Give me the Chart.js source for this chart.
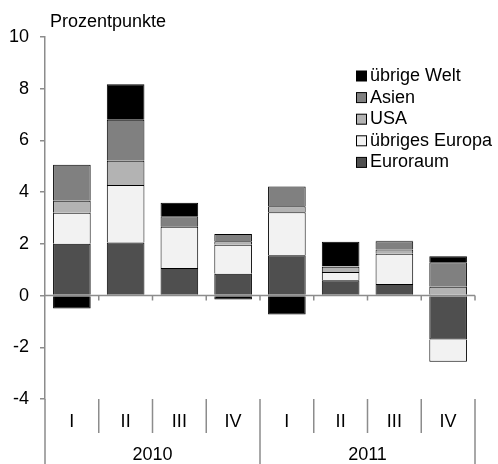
<!DOCTYPE html>
<html>
<head>
<meta charset="utf-8">
<script src="https://cdn.jsdelivr.net/npm/chart.js@4.4.1/dist/chart.umd.min.js"></script>
<style>
html, body { margin: 0; padding: 0; background: #fff; }
#wrap { width: 498px; height: 464px; position: relative; }
</style>
</head>
<body>
<div id="wrap"><canvas id="chart"></canvas></div>
<script>
// values (Prozentpunkte)
const quarters = ['I', 'II', 'III', 'IV', 'I', 'II', 'III', 'IV'];
const years = ['2010', '2011'];
const euroraum       = [2.0, 2.05, 1.07, 0.84, 1.56, 0.59, 0.45, -1.7];
const uebrigesEuropa = [1.2, 2.23, 1.59, 1.13, 1.66, 0.32, 1.17, -0.86];
const usa            = [0.47, 0.93, 0.03, 0.13, 0.23, 0.2, 0.16, 0.34];
const asien          = [1.39, 1.59, 0.38, 0.28, 0.77, 0.02, 0.32, 0.95];
const uebrigeWelt    = [-0.5, 1.37, 0.52, -0.15, -0.73, 0.95, 0.02, 0.23];
const yMin = -4, yMax = 10, yStep = 2;

const FONT = '"Liberation Sans", Arial, sans-serif';
const FSIZE = 18;
const AXIS = '#8c8c8c';

const datasets = [
    { label: 'Euroraum', data: euroraum, backgroundColor: '#4f4f4f' },
    { label: 'übriges Europa', data: uebrigesEuropa, backgroundColor: '#f2f2f2' },
    { label: 'USA', data: usa, backgroundColor: '#b3b3b3' },
    { label: 'Asien', data: asien, backgroundColor: '#808080' },
    { label: 'übrige Welt', data: uebrigeWelt, backgroundColor: '#000000' }
].map(d => Object.assign(d, {
    borderColor: '#000',
    borderWidth: 1,
    barPercentage: 0.7,
    categoryPercentage: 1
}));

// title, legend, zero line, separators and years
const decor = {
    id: 'decor',
    afterDatasetsDraw(chart) {
        const ctx = chart.ctx;
        const area = chart.chartArea;
        const y = chart.scales.y;
        const n = quarters.length;
        const step = (area.right - area.left) / n;
        const y0 = y.getPixelForValue(0);

        ctx.save();
        ctx.strokeStyle = AXIS;
        ctx.lineWidth = 1.5;

        // zero line with little ticks
        ctx.beginPath();
        ctx.moveTo(area.left, y0);
        ctx.lineTo(area.right, y0);
        for (let k = 1; k <= n; k++) {
            const x = area.left + k * step;
            ctx.moveTo(x, y0);
            ctx.lineTo(x, y0 + 5);
        }
        ctx.stroke();

        // separators under the plot
        const h = chart.height;
        ctx.beginPath();
        ctx.moveTo(area.left, area.bottom);
        ctx.lineTo(area.left, h);
        for (let k = 1; k <= n; k++) {
            const x = area.left + k * step;
            ctx.moveTo(x, area.bottom);
            ctx.lineTo(x, k % 4 === 0 ? h : area.bottom + 34);
        }
        ctx.stroke();

        ctx.fillStyle = '#000';
        ctx.font = FSIZE + 'px ' + FONT;
        ctx.textBaseline = 'middle';
        ctx.textAlign = 'center';
        years.forEach((yr, i) => {
            ctx.fillText(yr, area.left + (i * 4 + 2) * step, 455);
        });

        ctx.textAlign = 'left';
        ctx.fillText('Prozentpunkte', 50, 22);

        // legend, reversed order
        const items = datasets.slice().reverse();
        items.forEach((d, i) => {
            const cy = 76 + i * 21.6;
            ctx.fillStyle = d.backgroundColor;
            ctx.fillRect(356.5, cy - 5, 10, 10);
            ctx.strokeStyle = '#000';
            ctx.lineWidth = 1;
            ctx.strokeRect(356.5, cy - 5, 10, 10);
            ctx.fillStyle = '#000';
            ctx.fillText(d.label, 370, cy);
        });
        ctx.restore();
    }
};

new Chart(document.getElementById('chart'), {
    type: 'bar',
    data: {
        labels: quarters,
        datasets: datasets
    },
    options: {
        responsive: true,
        maintainAspectRatio: false,
        animation: false,
        layout: {
            padding: { top: 37, right: 23, left: 0, bottom: 0 }
        },
        plugins: {
            legend: { display: false },
            tooltip: { enabled: false }
        },
        scales: {
            x: {
                stacked: true,
                border: { display: false },
                grid: { display: false, drawTicks: false },
                ticks: {
                    color: '#000',
                    padding: 12,
                    font: { family: FONT, size: FSIZE }
                },
                afterFit: (s) => { s.height = 65; }
            },
            y: {
                stacked: true,
                min: yMin,
                max: yMax,
                border: { display: true, color: AXIS, width: 1.5 },
                grid: {
                    color: 'transparent',
                    tickColor: AXIS,
                    tickLength: 5,
                    lineWidth: 1.5
                },
                ticks: {
                    stepSize: yStep,
                    color: '#000',
                    padding: 11,
                    font: { family: FONT, size: FSIZE }
                },
                afterFit: (s) => { s.width = 45; }
            }
        }
    },
    plugins: [decor]
});
</script>
</body>
</html>
